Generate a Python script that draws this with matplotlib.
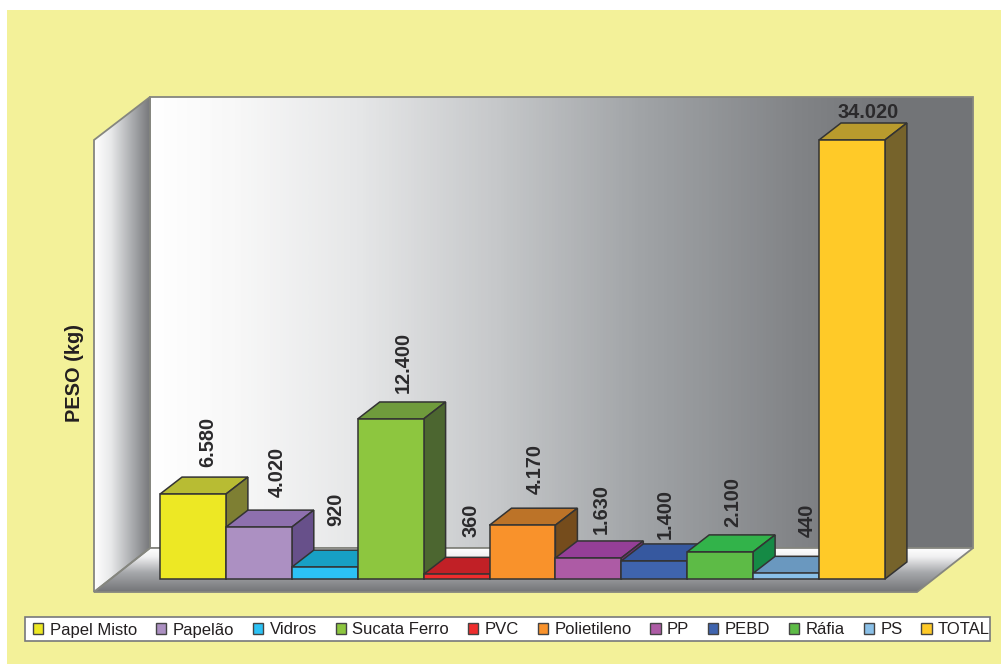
import numpy as np
import matplotlib
matplotlib.use('Agg')
import matplotlib.pyplot as plt
from matplotlib.colors import LinearSegmentedColormap
from matplotlib.patches import Polygon, Rectangle, Patch

plt.rcParams['font.family'] = ['Liberation Sans', 'DejaVu Sans']

categorias = ['Papel Misto', 'Papelão', 'Vidros', 'Sucata Ferro', 'PVC', 'Polietileno',
              'PP', 'PEBD', 'Ráfia', 'PS', 'TOTAL']
peso = [6580, 4020, 920, 12400, 360, 4170, 1630, 1400, 2100, 440, 34020]
rotulos = ['6.580', '4.020', '920', '12.400', '360', '4.170', '1.630', '1.400', '2.100', '440', '34.020']

cor_frente = ['#EDE824', '#AC90C2', '#2CC2F5', '#8DC63F', '#EE2D2D', '#F9922B',
              '#AD5BA5', '#3F64AE', '#5DBB46', '#8AC0E8', '#FFCA28']
cor_topo = ['#B8BC33', '#8E70AE', '#17A0C4', '#6F9B3C', '#C12026', '#BC7328',
            '#953F97', '#36589F', '#32B34A', '#6A98BF', '#B99B2D']
cor_lado = ['#7E7F33', '#67508A', '#117A96', '#4C6630', '#8E1A1E', '#754C1C',
            '#7A307A', '#2B4580', '#158A45', '#4F7696', '#76632B']

# rotulo: deslocamento em pixels a partir do centro da barra / topo de tras
desl_x = [15, 18, 11, 13, 14, 13, 13, 11, 13, 21, 16]
desl_y = [10, 13, 24, 9, 20, 14, 7, 5, 8, 19, 1]

# escala: pixels da imagem original -> unidades dos dados
px_barra = 65.9
x0_px = 160.0
y0_px = 579.0
kg_px = 34020 / 439.0


def X(px):
    return (px - x0_px) / px_barra


def Y(py):
    return (y0_px - py) * kg_px


def P(pts):
    return [(X(a), Y(b)) for a, b in pts]


fig = plt.figure(figsize=(10.01, 6.64), dpi=100, facecolor='white')
ax = fig.add_axes([0, 0, 1, 1])
ax.set_xlim(X(0), X(1001))
ax.set_ylim(Y(664), Y(0))
ax.axis('off')

# fundo amarelo
ax.add_patch(Polygon(P([(7, 10), (1001, 10), (1001, 664), (7, 664)]), fc='#F3F199', ec='none', zorder=0))


def gradiente(pts, cores, horizontal, lim, z):
    cmap = LinearSegmentedColormap.from_list('g', cores)
    g = np.linspace(0, 1, 256)
    g = g.reshape(1, -1) if horizontal else g.reshape(-1, 1)
    poly = Polygon(P(pts), fc='none', ec='#85867F', lw=1.3, zorder=z + 0.1)
    ax.add_patch(poly)
    xs = [p[0] for p in pts]
    ys = [p[1] for p in pts]
    if horizontal:
        ext = [X(lim[0]), X(lim[1]), Y(max(ys)), Y(min(ys))]
    else:
        ext = [X(min(xs)), X(max(xs)), Y(lim[1]), Y(lim[0])]
    im = ax.imshow(g, cmap=cmap, extent=ext, aspect='auto', origin='upper', zorder=z, interpolation='bilinear')
    im.set_clip_path(poly)


# parede do fundo, parede esquerda e piso
gradiente([(150, 97), (973, 97), (973, 548), (150, 548)],
          [(0, '#FFFFFF'), (0.1, '#F8F8F8'), (0.25, '#E6E7E8'), (0.42, '#C6C8CA'),
           (0.6, '#A0A3A6'), (0.8, '#808285'), (0.92, '#727477'), (1, '#727477')], True, (150, 973), 1)
gradiente([(94, 140), (150, 97), (150, 548), (94, 592)],
          [(0, '#FFFFFF'), (0.3, '#E8E9EA'), (0.7, '#A7A9AC'), (1, '#77787B')], True, (94, 150), 2)
gradiente([(150, 548), (973, 548), (917, 592), (94, 592)],
          [(0, '#FFFFFF'), (0.2, '#F0F0F1'), (0.55, '#A7A9AC'), (1, '#737477')], False, (548, 592), 2)

# barras
dx = 22 / px_barra
dy = 17 * kg_px
borda = '#333333'
for i in range(len(peso)):
    v = peso[i]
    z = 3 + i * 0.1
    ax.add_patch(Polygon([(i, v), (i + 1, v), (i + 1 + dx, v + dy), (i + dx, v + dy)],
                         fc=cor_topo[i], ec=borda, lw=1.1, zorder=z))
    ax.add_patch(Polygon([(i + 1, 0), (i + 1 + dx, dy), (i + 1 + dx, v + dy), (i + 1, v)],
                         fc=cor_lado[i], ec=borda, lw=1.1, zorder=z))
    ax.add_patch(Rectangle((i, 0), 1, v, fc=cor_frente[i], ec=borda, lw=1.1, zorder=z + 0.01))
    tx = i + 0.5 + desl_x[i] / px_barra
    ty = v + dy + desl_y[i] * kg_px
    rot = 0 if categorias[i] == 'TOTAL' else 90
    ax.text(tx, ty, rotulos[i], rotation=rot, ha='center', va='bottom', fontsize=14.4,
            fontweight='bold', color='#2B2A2C', zorder=6)

ax.text(X(74), Y(373), 'PESO (kg)', rotation=90, ha='center', va='center', fontsize=14.4,
        fontweight='bold', color='#231F20', zorder=6)

# legenda
ax.add_patch(Polygon(P([(25, 617), (990, 617), (990, 641), (25, 641)]), fc='white', ec='#77787B', lw=1.2, zorder=6.5))
alcas = [Patch(fc=cor_frente[i], ec='#444444', lw=1, label=categorias[i]) for i in range(len(peso))]
leg = ax.legend(handles=alcas, ncol=len(alcas), loc='center', bbox_to_anchor=(511.5 / 1001, 1 - 630 / 664),
                fontsize=12, frameon=False, handlelength=0.62, handleheight=0.62, handletextpad=0.38,
                columnspacing=1.13, borderpad=0, borderaxespad=0, labelcolor='#231F20')
leg.set_zorder(7)

fig.savefig('out.png', dpi=100, facecolor='white')
